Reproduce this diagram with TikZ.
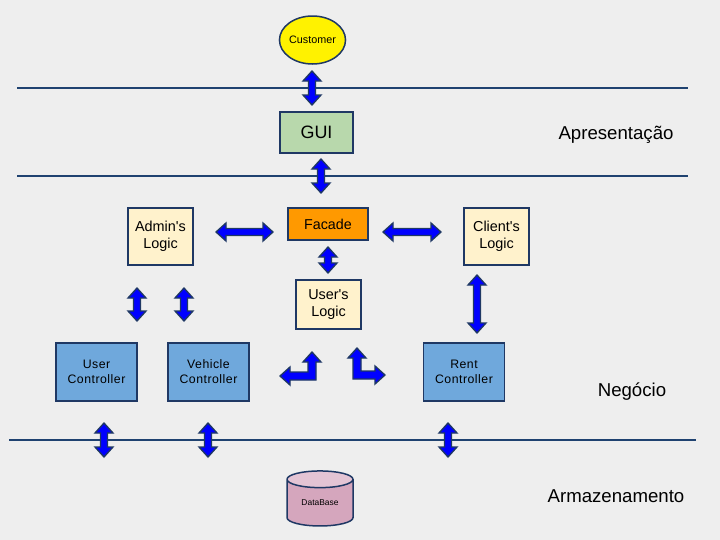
\documentclass[tikz,border=0pt]{standalone}
\usepackage{fontspec}
\setmainfont{Liberation Sans}
\usetikzlibrary{calc,shapes.geometric}
\definecolor{bggray}{RGB}{238,238,238}
\definecolor{layerline}{RGB}{31,66,112}
\definecolor{boxline}{RGB}{31,56,100}
\definecolor{guigreen}{RGB}{184,216,172}
\definecolor{facadeorange}{RGB}{255,153,0}
\definecolor{logiccream}{RGB}{255,242,204}
\definecolor{ctrlblue}{RGB}{111,168,220}
\definecolor{dbpink}{RGB}{213,166,189}
\definecolor{dbtop}{RGB}{228,196,212}
\def\ahl{3mm}
\def\ahw{2.7mm}
\def\asw{1.05mm}
\def\dblarrow(#1)(#2){\draw[blockarrow] (#1) -- ($(#1)!\ahl!(#2)!\ahw!90:(#2)$) -- ($(#1)!\ahl!(#2)!\asw!90:(#2)$) -- ($(#2)!\ahl!(#1)!\asw!-90:(#1)$) -- ($(#2)!\ahl!(#1)!\ahw!-90:(#1)$) -- (#2) -- ($(#2)!\ahl!(#1)!\ahw!90:(#1)$) -- ($(#2)!\ahl!(#1)!\asw!90:(#1)$) -- ($(#1)!\ahl!(#2)!\asw!-90:(#2)$) -- ($(#1)!\ahl!(#2)!\ahw!-90:(#2)$) -- cycle;}

\begin{document}
\begin{tikzpicture}[x=0.3mm, y=-0.3mm,
	box/.style={draw=boxline, line width=0.45mm, inner sep=0pt, align=center},
	logicbox/.style={box, fill=logiccream, minimum width=19.5mm, font=\fontsize{12.3}{14.6}\selectfont},
	ctrlbox/.style={box, fill=ctrlblue, minimum width=24.3mm, minimum height=17.4mm, font=\fontsize{10.5}{12.8}\selectfont\addfontfeature{LetterSpace=4}},
	layer/.style={font=\fontsize{15.9}{18}\selectfont},
	blockarrow/.style={fill=blue, draw=boxline, line width=0.4mm, line join=miter}]
			%%%%% START %%%%%
			
			\fill[bggray] (0,0) rectangle (720,540);
			\useasboundingbox (0,0) rectangle (720,540);
			
			\draw[layerline, line width=0.6mm] (17,88) -- (688,88);
			\draw[layerline, line width=0.6mm] (17,176) -- (688,176);
			\draw[layerline, line width=0.6mm] (9,440) -- (696,440);
			
			\node[ellipse, draw=boxline, line width=0.45mm, fill=yellow, inner sep=0pt, minimum width=19.5mm, minimum height=14.4mm, font=\fontsize{9.2}{11}\selectfont] (customer) at (312.5,40) {Customer};
			\node[box, fill=guigreen, minimum width=21.9mm, minimum height=12.3mm, font=\fontsize{15.3}{18}\selectfont] (gui) at (316.5,132.5) {GUI};
			\node[box, fill=facadeorange, minimum width=24mm, minimum height=9.6mm, font=\fontsize{12.2}{14}\selectfont] (facade) at (328,224) {Facade};
			
			\node[logicbox, minimum height=17.1mm] (admin) at (160.5,236.5) {Admin\textquotesingle s\\Logic};
			\node[logicbox, minimum height=17.1mm] (client) at (496.5,236.5) {Client\textquotesingle s\\Logic};
			\node[logicbox, minimum height=14.7mm] (userlogic) at (328.5,304.5) {User\textquotesingle s\\Logic};
			
			\node[ctrlbox] (userctrl) at (96.5,372) {User\\Controller};
			\node[ctrlbox] (vehiclectrl) at (208.5,372) {Vehicle\\Controller};
			\node[ctrlbox] (rentctrl) at (464,372) {Rent\\Controller};
			
			\node[cylinder, shape border rotate=90, aspect=0.45, draw=boxline, line width=0.45mm, cylinder uses custom fill, cylinder body fill=dbpink, cylinder end fill=dbtop, inner sep=0pt, minimum width=19.8mm, minimum height=16.5mm, font=\fontsize{7.2}{9}\selectfont] (db) at (320,503) {DataBase};
			
			\node[layer] (apres) at (616,135) {Apresentação};
			\node[layer] (negocio) at (632,392) {Negócio};
			\node[layer] (armaz) at (616,496) {Armazenamento};
			
			\coordinate (a1) at (312,71);  \coordinate (b1) at (312,105);
			\coordinate (a2) at (321,159); \coordinate (b2) at (321,193);
			\coordinate (a3) at (216,232); \coordinate (b3) at (273,232);
			\coordinate (a4) at (383,232); \coordinate (b4) at (441,232);
			\coordinate (a5) at (328,247); \coordinate (b5) at (328,273);
			\coordinate (a6) at (137,288); \coordinate (b6) at (137,321);
			\coordinate (a7) at (184,288); \coordinate (b7) at (184,321);
			\coordinate (a8) at (477,275); \coordinate (b8) at (477,333);
			\coordinate (a9) at (104,423); \coordinate (b9) at (104,457);
			\coordinate (a10) at (208,423); \coordinate (b10) at (208,457);
			\coordinate (a11) at (448,423); \coordinate (b11) at (448,457);
			
			\foreach \i in {1,...,11}{\dblarrow(a\i)(b\i)}
			
			\draw[blockarrow] (280,376) -- (290,367) -- (290,372) -- (308,372) -- (308,362) -- (303,362) -- (312,352) -- (321,362) -- (316,362) -- (316,380) -- (290,380) -- (290,385) -- cycle;
			\draw[blockarrow] (357,348) -- (366,358) -- (361,358) -- (361,371) -- (375,371) -- (375,366) -- (385,375) -- (375,384) -- (375,379) -- (353,379) -- (353,358) -- (348,358) -- cycle;
			
			%%%%% END %%%%%
\end{tikzpicture}
\end{document}
